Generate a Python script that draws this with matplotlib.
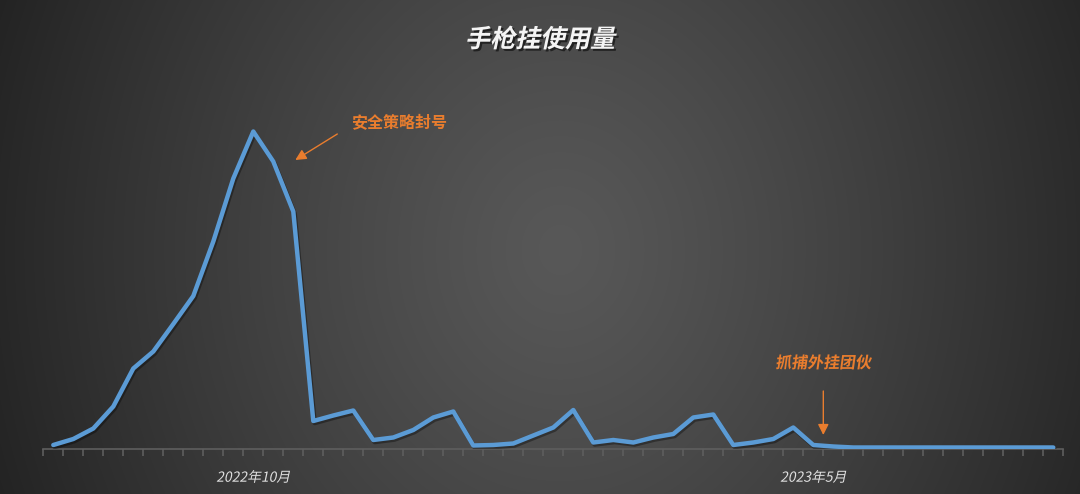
'''
   手枪挂使用量 - weekly line chart
'''
import numpy as np
import matplotlib
matplotlib.use("Agg")
import matplotlib.pyplot as plt
from matplotlib.patheffects import AbstractPathEffect, SimpleLineShadow, Normal
from matplotlib.transforms import Affine2D

plt.rcParams['font.family'] = ['Noto Sans CJK SC', 'DejaVu Sans']

# weekly values (arbitrary units)
usage = [3.5, 9.5, 20, 42, 80, 97, 124.5, 152.5, 207, 270,
         317, 287, 237, 27.5, 33, 38, 8.5, 11, 18.5, 31,
         37, 3, 3.5, 5, 13, 21, 38.5, 6, 8.5, 6,
         11, 14.5, 31, 34, 3.5, 6, 9.5, 21, 3.5, 2,
         1, 1, 1, 1, 1, 1, 1, 1, 1, 1, 1]
weeks = list(range(len(usage)))

# x labels
tick_pos = [10, 38]
tick_labels = ["2022年10月", "2023年5月"]

# notes
notes = ["安全策略封号", "抓捕外挂团伙"]

ORANGE = "#E97D2E"
BLUE = "#5B9BD5"
GREY = "#5e5e5e"


#------------------------------------------------------
class Slant(AbstractPathEffect):
    """ fake italic for CJK text: skew the glyph path """
    def __init__(self, angle=12, offset=(0, 0), color=None, alpha=None):
        super().__init__(offset)
        self.angle = angle
        self.color = color
        self.alpha = alpha

    def draw_path(self, renderer, gc, tpath, affine, rgbFace=None):
        gc0 = renderer.new_gc()
        gc0.copy_properties(gc)
        if self.color is not None:
            rgbFace = matplotlib.colors.to_rgba(self.color)
        if self.alpha is not None:
            gc0.set_alpha(self.alpha)
        tr = Affine2D().skew_deg(self.angle, 0) + affine + self._offset_transform(renderer)
        renderer.draw_path(gc0, tpath, tr, rgbFace)
        gc0.restore()


#------------------------------------------------------
def fundo(fig):
    # radial grey gradient behind everything
    h, w = 494, 1080
    yy, xx = np.mgrid[0:h, 0:w]
    r = np.sqrt(((xx - 560) / 560.0) ** 2 + ((yy - 250) / 650.0) ** 2)
    v = np.clip(0.345 - 0.19 * r ** 1.2, 0.10, 1)
    img = np.dstack([v, v, v])
    bg = fig.add_axes([0, 0, 1, 1], zorder=-10)
    bg.imshow(img, aspect='auto', interpolation='bilinear')
    bg.axis('off')


#------------------------------------------------------
def main():
    fig = plt.figure(figsize=(10.8, 4.94), dpi=100)
    fundo(fig)

    ax = fig.add_axes([43.3 / 1080, 45.5 / 494, 1020 / 1080, 350 / 494])
    ax.set_facecolor('none')

    ax.plot(weeks, usage, color=BLUE, lw=3.2, solid_joinstyle='round',
            solid_capstyle='round', zorder=3,
            path_effects=[SimpleLineShadow(offset=(1, -1.5), alpha=0.35), Normal()])

    ax.set_xlim(-0.5, len(usage) - 0.5)
    ax.set_ylim(0, 350)

    for s in ['top', 'left', 'right']:
        ax.spines[s].set_visible(False)
    ax.spines['bottom'].set_color(GREY)
    ax.spines['bottom'].set_linewidth(1.2)
    ax.set_yticks([])

    # tick marks between categories, labels on categories
    ax.set_xticks(np.arange(-0.5, len(usage)), minor=True)
    ax.tick_params(axis='x', which='minor', length=5, width=1.2, color=GREY)
    ax.set_xticks(tick_pos)
    ax.set_xticklabels(tick_labels, fontsize=10, color="#e0e0e0")
    ax.tick_params(axis='x', which='major', length=0, pad=16)
    for lb in ax.get_xticklabels():
        lb.set_path_effects([Slant(12)])

    # title
    fig.text(0.5, 1 - 40 / 494, "手枪挂使用量", ha='center', va='center',
             fontsize=18, fontweight='bold', color="#f4f4f4",
             path_effects=[Slant(12, offset=(1.5, -1.5), color='black', alpha=0.55),
                           Slant(12)])

    # notes
    ax.text(17.3, 325.8, notes[0], ha='center', va='center', fontsize=11.5,
            fontweight='bold', color=ORANGE)
    ax.annotate('', xy=(12.1, 288.5), xytext=(14.2, 314.5),
                arrowprops=dict(arrowstyle='-|>', color=ORANGE, lw=1,
                                mutation_scale=16, shrinkA=0, shrinkB=0))

    ax.text(38.5, 85.5, notes[1], ha='center', va='center', fontsize=11.5,
            fontweight='bold', color=ORANGE, path_effects=[Slant(8)])
    ax.annotate('', xy=(38.5, 13.5), xytext=(38.5, 57.5),
                arrowprops=dict(arrowstyle='-|>', color=ORANGE, lw=1,
                                mutation_scale=16, shrinkA=0, shrinkB=0))

    fig.savefig("out.png", dpi=100)


#--------------------------------------------------------------
if __name__ == "__main__":
    main()
